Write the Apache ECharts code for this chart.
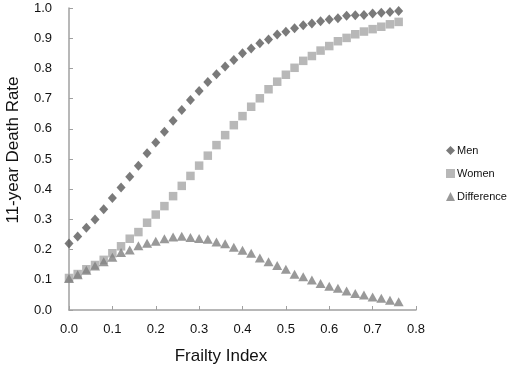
<!DOCTYPE html>
<html>
<head>
<meta charset="utf-8">
<script src="https://cdn.jsdelivr.net/npm/echarts@6/dist/echarts.min.js"></script>
<style>
  html, body { margin: 0; padding: 0; background: #fff; }
  #chart { width: 510px; height: 370px; }
</style>
</head>
<body>
<div id="chart"></div>
<script>
var frailty = [0.00, 0.02, 0.04, 0.06, 0.08, 0.10, 0.12, 0.14, 0.16, 0.18,
               0.20, 0.22, 0.24, 0.26, 0.28, 0.30, 0.32, 0.34, 0.36, 0.38,
               0.40, 0.42, 0.44, 0.46, 0.48, 0.50, 0.52, 0.54, 0.56, 0.58,
               0.60, 0.62, 0.64, 0.66, 0.68, 0.70, 0.72, 0.74, 0.76];

var men = [0.220, 0.243, 0.272, 0.300, 0.334, 0.371, 0.406, 0.441, 0.478, 0.519,
           0.555, 0.590, 0.627, 0.662, 0.695, 0.725, 0.755, 0.781, 0.806, 0.828,
           0.850, 0.866, 0.883, 0.896, 0.912, 0.921, 0.933, 0.943, 0.949, 0.956,
           0.962, 0.966, 0.974, 0.976, 0.977, 0.982, 0.984, 0.987, 0.990];

var women = [0.106, 0.119, 0.135, 0.149, 0.166, 0.188, 0.211, 0.236, 0.258, 0.289,
             0.316, 0.344, 0.377, 0.411, 0.444, 0.478, 0.511, 0.546, 0.579, 0.612,
             0.642, 0.673, 0.701, 0.731, 0.756, 0.779, 0.802, 0.825, 0.841, 0.859,
             0.874, 0.890, 0.901, 0.913, 0.922, 0.930, 0.938, 0.946, 0.954];

var difference = [0.104, 0.117, 0.132, 0.146, 0.160, 0.175, 0.190, 0.199, 0.213, 0.221,
                  0.228, 0.236, 0.242, 0.244, 0.240, 0.237, 0.234, 0.225, 0.219, 0.208,
                  0.198, 0.188, 0.172, 0.160, 0.147, 0.135, 0.118, 0.110, 0.099, 0.088,
                  0.079, 0.072, 0.063, 0.055, 0.050, 0.043, 0.039, 0.032, 0.027];

function pairs(ys) {
    return frailty.map(function (x, i) { return [x, ys[i]]; });
}

var chart = echarts.init(document.getElementById('chart'), null, { renderer: 'canvas' });

var axisLabelStyle = {
    color: '#111',
    fontFamily: 'Liberation Sans',
    fontSize: 13
};

var option = {
    animation: false,
    color: ['#595959', '#a6a6a6', '#7f7f7f'],
    grid: {
        left: 69,
        top: 8,
        width: 347,
        height: 302,
        outerBoundsMode: 'none'
    },
    legend: {
        orient: 'vertical',
        left: 441,
        top: 140,
        itemWidth: 9,
        itemHeight: 9,
        itemGap: 12,
        textStyle: {
            color: '#111',
            fontFamily: 'Liberation Sans',
            fontSize: 11,
            padding: [0, 0, 0, -3]
        },
        data: [
            { name: 'Men', icon: 'diamond' },
            { name: 'Women', icon: 'rect' },
            { name: 'Difference', icon: 'triangle' }
        ]
    },
    xAxis: {
        type: 'value',
        min: 0,
        max: 0.8,
        interval: 0.1,
        name: 'Frailty Index',
        nameLocation: 'middle',
        nameGap: 38,
        nameTextStyle: {
            color: '#111',
            fontFamily: 'Liberation Sans',
            fontSize: 17,
            padding: [0, 43, 0, 0]
        },
        axisLine: { lineStyle: { color: '#a0a0a0', width: 1.5 } },
        axisTick: { show: true, inside: true, length: 4, lineStyle: { color: '#a0a0a0' } },
        axisLabel: Object.assign({ margin: 13, formatter: function (v) { return v.toFixed(1); } }, axisLabelStyle),
        splitLine: { show: false }
    },
    yAxis: {
        type: 'value',
        min: 0,
        max: 1,
        interval: 0.1,
        name: '11-year Death Rate',
        nameLocation: 'middle',
        nameGap: 47,
        nameTextStyle: {
            color: '#111',
            fontFamily: 'Liberation Sans',
            fontSize: 17,
            padding: [0, 0, 0, 18]
        },
        axisLine: { show: true, lineStyle: { color: '#a0a0a0', width: 1.5 } },
        axisTick: { show: true, inside: true, length: 4, lineStyle: { color: '#a0a0a0' } },
        axisLabel: Object.assign({ margin: 17, formatter: function (v) { return v.toFixed(1); } }, axisLabelStyle),
        splitLine: { show: false }
    },
    series: [
        {
            name: 'Men',
            type: 'scatter',
            symbol: 'diamond',
            symbolSize: [9, 10],
            data: pairs(men)
        },
        {
            name: 'Women',
            type: 'scatter',
            symbol: 'rect',
            symbolSize: 8.5,
            data: pairs(women)
        },
        {
            name: 'Difference',
            type: 'scatter',
            symbol: 'triangle',
            symbolSize: [10, 9],
            data: pairs(difference)
        }
    ]
};

chart.setOption(option);
</script>
</body>
</html>
